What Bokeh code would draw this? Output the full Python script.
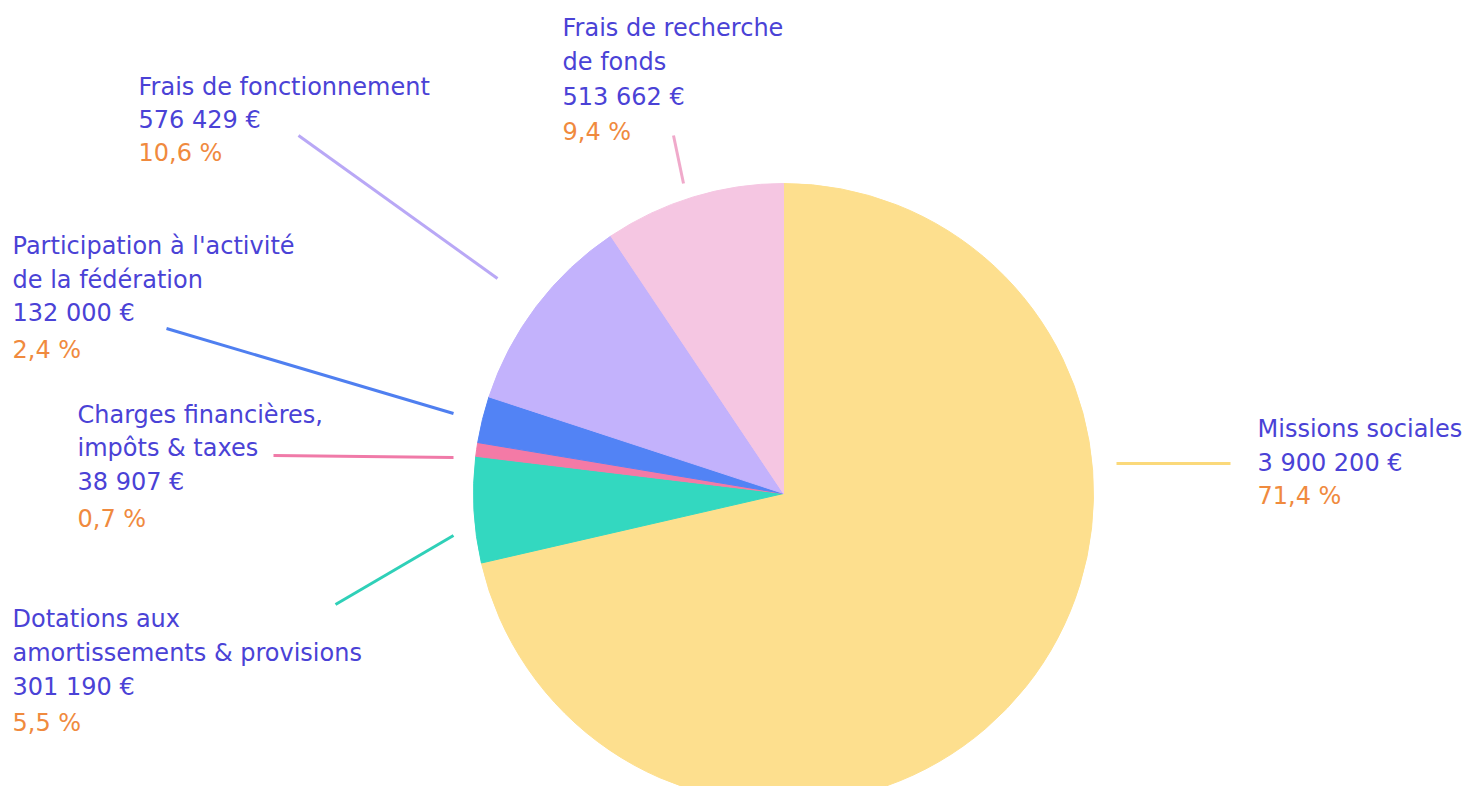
import math
from bokeh.plotting import figure
from bokeh.models import Range1d, ColumnDataSource
from bokeh.core.properties import value
from bokeh.embed import file_html
from bokeh.resources import INLINE

# ---- data ----
categories = [
    "Missions sociales",
    "Dotations aux amortissements & provisions",
    "Charges financières, impôts & taxes",
    "Participation à l'activité de la fédération",
    "Frais de fonctionnement",
    "Frais de recherche de fonds",
]
amounts = [3900200, 301190, 38907, 132000, 576429, 513662]
percent_labels = ["71,4 %", "5,5 %", "0,7 %", "2,4 %", "10,6 %", "9,4 %"]
label_lines = [
    ["Missions sociales"],
    ["Dotations aux", "amortissements & provisions"],
    ["Charges financières,", "impôts & taxes"],
    ["Participation à l'activité", "de la fédération"],
    ["Frais de fonctionnement"],
    ["Frais de recherche", "de fonds"],
]
amount_labels = ["3 900 200 €", "301 190 €", "38 907 €", "132 000 €", "576 429 €", "513 662 €"]

# ---- styles / layout ----
slice_colors = ["#fddf8e", "#33d8c0", "#f47aa6", "#5283f5", "#c3b2fc", "#f5c6e2"]
leader_colors = ["#fbd97a", "#2fd0b8", "#f07aa8", "#4f7ff0", "#b9a8f6", "#f0aacb"]
TEXT_BLUE = "#4a42d6"
TEXT_ORANGE = "#f08a3e"
FONT = "DejaVu Sans"
FS = "24px"

W, H = 1462, 786
def sy(y):  # screen y -> data y
    return 802 - y

# label anchor (screen): x, list of line-center y's (last one = percent)
label_layout = [
    (1257, [428, 462, 495]),
    (12, [618, 652, 686, 722]),
    (77, [414, 447, 481, 518]),
    (12, [245, 279, 312, 349]),
    (138, [86, 119, 152]),
    (562, [27, 61, 96, 131]),
]
leader_layout = [
    ((1116, 463), (1230, 463)),
    ((335, 604), (453, 535)),
    ((273, 455), (453, 457)),
    ((166, 328), (453, 413)),
    ((298, 135), (497, 278)),
    ((673, 135), (683, 183)),
]
CX, CY, R = 783, 493, 310

p = figure(width=W, height=H, output_backend="svg", toolbar_location=None,
           x_range=Range1d(0, W), y_range=Range1d(802 - H, 802),
           min_border=0)
p.axis.visible = False
p.grid.visible = False
p.outline_line_color = None
p.background_fill_color = "white"
p.border_fill_color = "white"

total = sum(amounts)
starts, ends = [], []
cum = 0.0
for a in amounts:
    starts.append(math.pi / 2 - 2 * math.pi * cum / total)
    cum += a
    ends.append(math.pi / 2 - 2 * math.pi * cum / total)

src = ColumnDataSource(dict(start=starts, end=ends, color=slice_colors))
p.wedge(x=CX, y=sy(CY), radius=R, start_angle="start", end_angle="end",
        direction="clock", fill_color="color", line_color="color", line_width=1,
        source=src)

# leaders
for (a, b), c in zip(leader_layout, leader_colors):
    p.line([a[0], b[0]], [sy(a[1]), sy(b[1])], line_color=c, line_width=3)

# labels
for i in range(len(categories)):
    x, ys = label_layout[i]
    texts = label_lines[i] + [amount_labels[i]]
    for t, yy in zip(texts, ys[:-1]):
        p.text(x=[x], y=[sy(yy)], text=[t], text_color=TEXT_BLUE,
               text_font=value(FONT), text_font_size=FS, text_font_style="normal",
               text_baseline="middle", text_align="left")
    p.text(x=[x], y=[sy(ys[-1])], text=[percent_labels[i]], text_color=TEXT_ORANGE,
           text_font=value(FONT), text_font_size=FS,
           text_baseline="middle", text_align="left")

open("out.html", "w").write(file_html(p, INLINE))
